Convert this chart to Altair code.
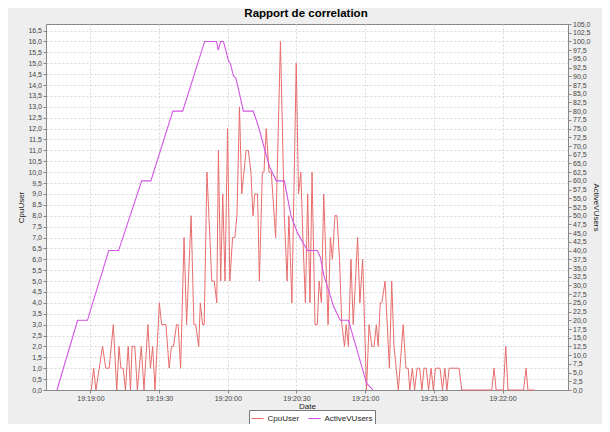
import altair as alt
import pandas as pd

# seconds after 19:19:00 and CPU values
cpu_t = [0.4, 1.4, 2.4, 5.3, 6.7, 8.2, 10.0, 11.5, 12.5, 13.3, 14.3, 15.3, 16.5, 17.5, 18.2, 19.4,
         20.5, 22.2, 23.4, 25.1, 26.2, 27.2, 28.2, 30.1, 31.1, 33.0, 34.4, 35.4, 36.3, 37.6, 38.3,
         39.4, 40.9, 42.0, 44.0, 45.2, 46.0, 47.3, 48.0, 49.0, 49.7, 50.9, 52.6, 53.0, 54.1, 55.2,
         55.9, 56.9, 57.8, 58.8, 59.9, 60.9, 62.1, 63.1, 64.0, 65.1, 66.1, 68.0, 69.0, 70.1, 71.0,
         71.8, 73.0, 73.8, 75.1, 75.8, 76.8, 78.0, 79.0, 80.9, 83.0, 84.7, 85.9, 86.7, 88.0, 89.9,
         90.9, 91.9, 92.8, 93.9, 94.9, 95.9, 96.8, 98.1, 99.1, 99.9, 100.9, 101.9, 103.8, 104.8,
         105.7, 106.8, 107.7, 108.8, 109.8, 111.0, 111.7, 112.7, 113.8, 114.8, 116.7, 117.7, 118.9,
         120.6, 121.7, 122.9, 123.9, 124.9, 125.7, 126.6, 127.3, 128.7, 130.6, 131.6, 132.6, 134.5,
         136.6, 137.8, 138.8, 139.5, 140.6, 141.6, 142.7, 143.8, 144.8, 145.7, 146.7, 147.7, 148.8,
         149.8, 150.7, 151.7, 152.7, 153.8, 154.8, 155.7, 156.7, 161.0, 162.2, 175.3, 176.3, 177.2,
         180.4, 181.4, 182.4, 189.2, 190.3, 191.1, 194.0]
cpu_v = [0, 1, 0, 2, 1, 1, 3, 0, 2, 1, 1, 0, 2, 0, 2, 2,
         0, 2, 0, 3, 1, 2, 0, 4, 3, 3, 1, 2, 2, 3, 3,
         1, 7, 3, 8, 3, 3, 2, 4, 3, 3, 10, 6, 5, 5, 4,
         11, 5, 9, 5, 12, 5, 7, 7, 8, 13, 9, 11, 11, 10, 8,
         9, 9, 5, 10, 10, 12, 10, 10, 7, 16, 8, 5, 8, 4, 15,
         9, 10, 7, 4, 9, 4, 10, 3, 3, 5, 4, 9, 3, 7,
         6, 8, 8, 6, 3, 2, 3, 2, 6, 3, 7, 4, 6,
         0, 3, 2, 2, 3, 2, 4, 4, 5, 1, 5, 2, 0,
         3, 1, 1, 0, 1, 0, 1, 1, 0, 1, 1, 0, 1,
         0, 1, 1, 1, 0, 1, 0, 1, 1, 0, 0, 1, 0,
         0, 2, 0, 0, 1, 0, 0]

# seconds after 19:19:00 and active virtual users
users_t = [-14.6, -5.6, -1.3, 8.0, 12.3, 22.4, 26.4, 36.0, 40.3, 49.9, 55.1, 55.8, 56.9, 58.1,
           60.3, 61.2, 62.5, 63.5, 64.6, 66.8, 71.1, 73.2, 74.7, 76.1, 78.3, 81.2, 84.7, 87.6,
           90.5, 94.8, 99.1, 100.5, 101.9, 104.1, 106.2, 109.1, 112.7, 120.6, 122.0, 123.4]
users_v = [0, 20, 20, 40, 40, 60, 60, 80, 80, 100, 100, 97.5, 100, 100,
           94.5, 93.5, 90, 89.5, 86.5, 80, 80, 76, 72.5, 69, 64, 60, 60, 50,
           45, 40, 40, 38, 33, 28.5, 24, 20, 20, 2, 1, 0]

series_names = ["CpuUser", "ActiveVUsers"]
series_colors = ["#e86c6c", "#d254e4"]

x_ticks = [0, 30, 60, 90, 120, 150, 180]
x_domain = [-19.4, 208.6]
cpu_ticks = [i * 0.5 for i in range(34)]
users_ticks = [i * 2.5 for i in range(43)]

cpu_df = pd.DataFrame({"t": cpu_t, "value": cpu_v, "series": series_names[0]})
users_df = pd.DataFrame({"t": users_t, "value": users_v, "series": series_names[1]})

comma_fmt = "replace(format(datum.value, '.1f'), '.', ',')"

x_enc = alt.X(
    "t:Q",
    scale=alt.Scale(domain=x_domain, nice=False, zero=False),
    axis=alt.Axis(
        values=x_ticks,
        labelExpr="timeFormat(datetime(2012, 0, 1, 19, 19, datum.value), '%H:%M:%S')",
        title="Date",
        grid=True,
        labelFlush=False,
    ),
)

color_enc = alt.Color(
    "series:N",
    scale=alt.Scale(domain=series_names, range=series_colors),
    legend=alt.Legend(
        title=None,
        orient="none",
        legendX=203,
        legendY=386,
        direction="horizontal",
        symbolType="stroke",
        symbolSize=150,
        symbolStrokeWidth=1,
        labelFontSize=8,
        labelFont="Liberation Sans",
        labelColor="#222222",
        columnPadding=6,
        labelOffset=3,
        padding=1.5,
        strokeColor="#777777",
        fillColor="#ffffff",
    ),
)

cpu = alt.Chart(cpu_df).mark_line(strokeWidth=1).encode(
    x=x_enc,
    y=alt.Y(
        "value:Q",
        scale=alt.Scale(domain=[0, 16.8], nice=False),
        axis=alt.Axis(
            orient="left",
            values=cpu_ticks,
            labelExpr=comma_fmt,
            title="CpuUser",
            grid=True,
            labelOverlap=False,
            labelFlush=False,
            titlePadding=2,
        ),
    ),
    color=color_enc,
)

users = alt.Chart(users_df).mark_line(strokeWidth=1.1).encode(
    x=x_enc,
    y=alt.Y(
        "value:Q",
        scale=alt.Scale(domain=[0, 105], nice=False),
        axis=alt.Axis(
            orient="right",
            values=users_ticks,
            labelExpr=comma_fmt,
            title="ActiveVUsers",
            grid=False,
            labelOverlap=False,
            labelFlush=False,
            titlePadding=1,
        ),
    ),
    color=color_enc,
)

chart = (
    alt.layer(cpu, users)
    .resolve_scale(y="independent")
    .properties(
        width=522,
        height=366,
        padding={"left": 38, "top": 16, "right": 34, "bottom": 34},
        autosize=alt.AutoSizeParams(type="none"),
        background="#eeeeee",
        title=alt.Title(
            "Rapport de correlation",
            font="Liberation Sans",
            fontSize=11.5,
            fontWeight="bold",
            color="#000000",
            anchor="middle",
            offset=1,
            dx=-1,
        ),
    )
    .configure_view(fill="#ffffff", stroke="#888888", strokeWidth=1)
    .configure_axis(
        labelFont="Liberation Sans",
        labelFontSize=7,
        labelColor="#444444",
        labelPadding=1.5,
        tickColor="#888888",
        tickSize=3,
        domainColor="#888888",
        titleFont="Liberation Sans",
        titleFontSize=8,
        titleFontWeight="normal",
        titleColor="#222222",
        gridColor="#d8d8d8",
        gridDash=[2, 2],
        gridWidth=1,
    )
    .configure_axisX(titlePadding=1)
)

chart.save("out.html", embed_options={"renderer": "svg", "actions": False})
